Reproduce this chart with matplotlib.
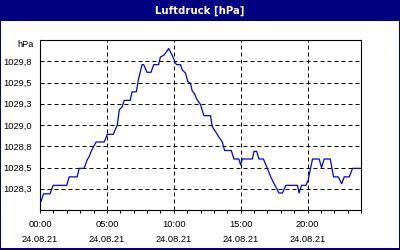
import matplotlib
matplotlib.use("Agg")
import matplotlib.pyplot as plt
from matplotlib.patches import Rectangle

# Data (hours since 00:00, pressure in hPa)
hours = [0.075, 0.26, 0.75, 0.98, 2.0, 2.18, 2.78, 2.93, 3.3, 3.53, 3.68, 3.83, 3.98, 4.2, 4.8,
         5.03, 5.48, 5.78, 5.93, 6.13, 6.3, 6.75, 6.88, 7.2, 7.35, 7.63, 7.75, 8.0, 8.3, 8.5,
         8.87, 9.0, 9.25, 9.45, 9.62, 9.75, 9.88, 10.05, 10.2, 10.5, 10.63, 10.88, 11.05, 11.25,
         11.38, 11.55, 11.7, 11.87, 12.0, 12.25, 12.75, 12.88, 13.13, 13.37, 13.63, 13.8, 14.3,
         14.5, 14.87, 15.0, 15.13, 15.88, 16.0, 16.2, 16.37, 16.7, 17.0, 17.25, 17.5, 17.87,
         18.13, 18.38, 19.25, 19.37, 19.55, 19.88, 20.05, 20.25, 20.38, 20.87, 21.05, 21.25,
         21.7, 21.95, 22.3, 22.55, 22.75, 23.12, 23.37, 24.0]
pressure = [1028.10, 1028.19, 1028.19, 1028.29, 1028.29, 1028.39, 1028.39, 1028.49, 1028.49,
            1028.59, 1028.63, 1028.69, 1028.74, 1028.80, 1028.80, 1028.89, 1028.89, 1029.00,
            1029.18, 1029.21, 1029.29, 1029.29, 1029.39, 1029.39, 1029.53, 1029.71, 1029.71,
            1029.62, 1029.62, 1029.71, 1029.71, 1029.80, 1029.82, 1029.86, 1029.90, 1029.86,
            1029.82, 1029.76, 1029.71, 1029.71, 1029.65, 1029.61, 1029.51, 1029.49, 1029.40,
            1029.37, 1029.31, 1029.27, 1029.24, 1029.11, 1029.11, 1028.98, 1028.92, 1028.86,
            1028.80, 1028.70, 1028.70, 1028.60, 1028.60, 1028.53, 1028.60, 1028.60, 1028.69,
            1028.69, 1028.60, 1028.60, 1028.49, 1028.39, 1028.31, 1028.20, 1028.20, 1028.29,
            1028.29, 1028.20, 1028.29, 1028.29, 1028.35, 1028.51, 1028.60, 1028.60, 1028.50,
            1028.60, 1028.60, 1028.39, 1028.39, 1028.31, 1028.39, 1028.39, 1028.49, 1028.49]

y_ticks = [1028.25, 1028.5, 1028.75, 1029.0, 1029.25, 1029.5, 1029.75]
y_labels = ["1028,3", "1028,5", "1028,8", "1029,0", "1029,3", "1029,5", "1029,8"]
x_ticks = [0, 5, 10, 15, 20]
x_labels = ["00:00\n24.08.21", "05:00\n24.08.21", "10:00\n24.08.21",
            "15:00\n24.08.21", "20:00\n24.08.21"]
title = "Luftdruck [hPa]"
unit = "hPa"

W, H = 400, 250
fig = plt.figure(figsize=(4, 2.5), dpi=100, facecolor="#000080")
# white content panel
fig.patches.append(Rectangle((1 / W, 2 / H), 398 / W, 227 / H, transform=fig.transFigure,
                             facecolor="white", edgecolor="none", zorder=-10))
fig.text(0.5, 1 - 10.5 / H, title, color="white", ha="center", va="center",
         fontsize=7.3, fontweight="bold", family="DejaVu Sans")

ax = fig.add_axes([40 / W, 1 - 210 / H, 321 / W, 170 / H])
ax.set_facecolor("white")
ax.plot(hours, pressure, color="#0000FF", lw=0.9, zorder=3)
ax.set_xlim(0, 24)
ax.set_ylim(1028.0, 1030.0)

ax.set_yticks(y_ticks)
ax.set_yticklabels(y_labels)
ax.set_xticks(x_ticks)
ax.set_xticklabels(x_labels, linespacing=1.9)
ax.set_xticks(range(0, 25), minor=True)

for lab in ax.get_yticklabels() + ax.get_xticklabels():
    lab.set_family("Liberation Sans")
    lab.set_fontsize(6.7)
    lab.set_color("black")

ax.tick_params(axis="y", length=0, pad=6)
ax.tick_params(axis="x", which="major", length=2.2, width=0.7, direction="out", pad=5)
ax.tick_params(axis="x", which="minor", length=2.2, width=0.7, direction="out")

ax.grid(True, which="major", color="black", lw=0.72, linestyle=(0, (4, 3)))
ax.set_axisbelow(True)
for sp in ax.spines.values():
    sp.set_linewidth(0.8)
    sp.set_color("black")

ax.text(-6 / 321, 1.0, unit, transform=ax.transAxes, ha="right", va="top",
        fontsize=6.7, family="Liberation Sans", color="black")

fig.savefig("out.png", dpi=100, facecolor=fig.get_facecolor())
